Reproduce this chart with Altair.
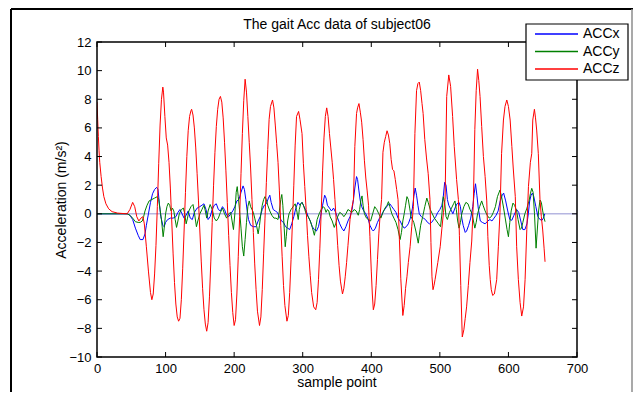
import altair as alt
import pandas as pd

# ---------------- data ----------------
series_names = ["ACCx", "ACCy", "ACCz"]
series_colors = ["#0000ff", "#008000", "#ff0000"]

x_ticks = [0, 100, 200, 300, 400, 500, 600, 700]
y_ticks = [-10, -8, -6, -4, -2, 0, 2, 4, 6, 8, 10, 12]

acc_x = [
    [0, 0], [44, 0], [48, -0.1], [52, -0.4], [56, -1.0], [60, -1.5], [63, -1.8], [67, -1.8], [70, -1.4],
    [72, -0.8], [75, 0.0], [78, 0.8], [81, 1.4], [84, 1.7], [87, 1.85], [89, 1.7], [91, 0.7], [93, -0.2],
    [96, -0.8], [98, -0.9], [100, -0.6], [103, -0.4], [107, -0.3], [111, -0.3], [115, -0.2], [118, 0.1],
    [121, 0.3], [124, 0.0], [127, -0.3], [130, -0.1], [133, 0.2], [136, -0.3], [139, -0.4], [142, 0.1],
    [146, 0.4], [150, 0.5], [153, 0.6], [156, 0.7], [159, 0.3], [162, -0.4], [165, -0.2], [168, 0.3],
    [171, 0.6], [174, 0.7], [177, 0.3], [180, 0.2], [183, 0.5], [186, 0.3], [189, -0.1], [192, -0.2],
    [195, 0.0], [198, 0.2], [201, 0.5], [204, 0.9], [207, 1.0], [210, 1.5], [213, 1.95], [215, 1.7],
    [217, 1.0], [219, 0.2], [221, -0.4], [224, -0.8], [228, -0.9], [232, -0.9], [235, -0.5], [238, -0.2],
    [241, 0.3], [244, 0.6], [247, 0.7], [250, 1.1], [252, 1.3], [254, 0.8], [257, 0.3], [260, 0.2],
    [263, 0.1], [266, -0.2], [269, -0.5], [272, -0.6], [275, -0.9], [278, -1.0], [281, -1.1], [284, -0.7],
    [287, -0.2], [290, 0.4], [293, 0.8], [296, 0.6], [299, 0.8], [302, 0.5], [305, 0.2], [308, -0.2],
    [311, -0.5], [314, -0.9], [317, -1.1], [320, -1.2], [323, -0.9], [326, -0.2], [329, 0.6], [332, 1.3],
    [334, 1.1], [336, 0.6], [339, 0.4], [342, 0.2], [345, 0.4], [348, 0.1], [351, -0.3], [354, -0.7],
    [357, -1.0], [360, -1.2], [363, -0.9], [366, -0.5], [369, -0.2], [372, 0.3], [374, 1.0], [376, 1.8],
    [378.5, 2.6], [380, 2.4], [382, 1.6], [384, 0.9], [386, 0.5], [389, 0.2], [392, 0.0], [395, -0.3],
    [398, -0.8], [401, -1.1], [403, -1.2], [406, -1.0], [409, -0.6], [412, -0.3], [415, -0.1], [418, 0.2],
    [421, 0.4], [424, 0.6], [427, 0.7], [430, 0.5], [433, 0.3], [436, 0.1], [439, -0.3], [442, -0.5],
    [445, -0.8], [448, -1.0], [451, -0.9], [454, -0.7], [457, -0.3], [460, 0.4], [462, 1.2], [464, 1.8],
    [466, 1.3], [468, 0.6], [470, 0.0], [473, -0.2], [476, -0.3], [479, -0.4], [482, -0.6], [485, -0.7],
    [488, -0.6], [491, -0.4], [494, -0.2], [497, 0.1], [500, 0.3], [503, 0.6], [505, 1.2], [507, 2.2],
    [509, 2.0], [511, 1.0], [513, 0.6], [516, 0.3], [519, 0.0], [522, 0.4], [525, 0.7], [528, 0.8],
    [530, 0.5], [532, -0.3], [534, -0.8], [537, -1.3], [539, -1.2], [542, -0.8], [545, -0.3], [548, 0.5],
    [550, 1.4], [552, 2.1], [554, 1.3], [556, 0.4], [559, -0.5], [562, -0.6], [566, -0.7], [570, -0.5],
    [573, -0.4], [576, -0.5], [579, -0.3], [582, -0.1], [585, 0.2], [588, 0.9], [591, 1.3], [593, 1.45],
    [596, 0.9], [599, 0.2], [602, -0.4], [605, -0.45], [608, -0.1], [612, 0.3], [615, 0.1], [618, -0.5],
    [621, -1.1], [624, -1.1], [627, -0.7], [629, 0.0], [631, 0.9], [633, 1.3], [635, 1.45], [637, 1.2],
    [640, 0.5], [643, -0.2], [646, -0.4], [649, -0.45], [651, -0.3], [653, 0.0],
]

acc_y = [
    [0, 0], [44, 0], [48, -0.1], [52, -0.3], [56, -0.55], [60, -0.6], [63, -0.6], [66, -0.5], [68, -0.2],
    [70, 0.2], [73, 0.6], [76, 0.9], [80, 1.0], [84, 1.1], [88, 1.2], [90, 1.0], [92, 0.3], [94, -0.4],
    [96.5, -1.6], [98, -1.0], [100, 0.0], [102, 0.5], [104, 0.75], [106, 0.6], [108, 0.2], [110, 0.4],
    [112, 0.2], [114, -0.4], [116, -0.95], [118, -0.5], [120, 0.0], [123, 0.3], [126, 0.4], [128, 0.0],
    [130, -0.7], [132, -0.3], [134, 0.2], [137, 0.5], [140, 0.65], [142, 0.1], [145, -0.9], [147, -0.5],
    [150, 0.0], [153, 0.3], [156, 0.6], [158, 0.2], [160, -0.3], [162, 0.2], [165, 0.65], [168, 0.3],
    [171, -0.3], [174, -0.5], [177, -0.3], [180, 0.1], [183, 0.4], [186, 0.0], [189, -0.3], [192, 0.0],
    [195, 0.1], [197, -0.5], [199, -1.1], [201, 0.0], [203, 1.5], [204.5, 1.9], [206, 1.2], [208, 0.2],
    [210, -1.0], [212, -2.3], [214, -2.95], [216, -1.8], [218, -0.6], [220, 0.5], [222, 0.9], [224, 0.5],
    [226, 0.3], [228, 0.1], [230, -0.3], [233, -0.9], [235, -1.4], [237, -0.8], [239, 0.0], [241, 0.6],
    [243, 1.0], [245, 1.2], [247, 1.0], [249, 0.6], [252, 0.2], [255, -0.1], [258, -0.3], [261, -0.3],
    [264, -0.4], [266, 0.2], [268, 1.0], [269.5, 1.35], [271, 0.6], [273, -1.0], [274.5, -2.3], [276, -1.6],
    [278, -0.5], [280, 0.0], [283, 0.3], [286, 0.5], [289, 0.7], [291, 0.3], [293.5, -0.4], [295, 0.3],
    [297, 0.7], [299, 0.8], [301, 0.6], [303, 0.3], [305, 0.0], [308, -0.2], [311, -0.5], [314, -0.95],
    [317, -1.5], [319, -1.0], [321, -0.4], [324, 0.0], [327, 0.3], [330, 0.5], [332, 0.4], [334, 0.1],
    [336, 0.3], [338, 0.2], [340, -0.2], [343, -0.5], [346, -0.95], [348, -0.7], [351, -0.2], [354, 0.1],
    [357, 0.0], [360, -0.2], [363, 0.0], [366, 0.3], [369, 0.2], [372, 0.1], [375, 0.3], [378, 0.2],
    [381, -0.1], [383, 0.3], [385, 1.0], [386.5, 1.25], [388, 0.6], [390, 0.0], [393, -0.3], [396, -0.4],
    [399, -0.5], [402, 0.0], [405, 0.5], [408, 0.3], [411, 0.0], [414, -0.3], [417, 0.1], [420, 0.4],
    [423, 0.6], [425, 0.85], [427, 0.5], [430, 0.0], [433, -0.3], [436, -0.6], [439, -1.1], [442, -1.8],
    [444, -1.3], [446, -0.5], [448, 0.0], [450, 0.6], [452, 1.2], [454, 1.0], [456, 0.4], [458, -0.2],
    [460, -0.4], [462, -0.6], [465, -1.2], [468.5, -2.05], [470, -1.5], [472, -0.8], [475, -0.2], [478, 0.5],
    [481, 1.1], [483, 0.8], [486, 0.3], [489, 0.0], [492, -0.3], [495, -0.5], [498, -0.7], [501, -0.9],
    [503, 0.0], [505, 1.2], [507, 0.8], [509, -0.2], [511, -0.4], [514, 0.1], [517, 0.4], [520, 0.7],
    [522, 0.9], [524, 0.3], [526, -0.5], [528, -1.0], [530, -0.6], [532, 0.0], [535, 0.5], [538, 0.8],
    [541, 0.7], [544, 0.3], [547, 0.0], [549, -0.5], [551, -1.0], [553, -0.6], [555, 0.0], [558, 0.5],
    [561, 0.9], [563, 0.6], [566, 0.2], [569, -0.1], [572, -0.3], [575, -0.2], [578, 0.1], [581, 0.5],
    [584, 1.2], [587.7, 1.66], [590, 1.2], [593, 0.4], [596, -0.5], [598, -1.1], [600, -1.6], [602, -0.6],
    [604, 0.2], [606.6, 0.75], [609, 0.6], [612, 0.2], [614, -0.4], [617, -1.1], [619, -1.0], [621, -0.6],
    [624, 0.0], [627, 0.4], [630, 0.9], [632, 1.4], [634, 1.78], [636, 1.5], [638, 0.0], [640.3, -2.4],
    [642, -1.2], [644, 0.2], [646, 0.97], [648, 0.8], [650, 0.2], [652, -0.3], [653.4, -0.55],
]

acc_z = [
    [0, 7.8], [1, 6.6], [2, 5.4], [3, 4.4], [4, 3.6], [6, 2.6], [8, 1.8], [10, 1.2], [13, 0.7], [17, 0.35],
    [22, 0.15], [30, 0.05], [44, 0.0], [48, 0.3], [52, 0.8], [55, 0.5], [58, -0.2], [61, -0.5], [64, -0.3],
    [67, -0.2], [69, -0.7], [72, -2.3], [75, -4.0], [78, -5.5], [80, -6.0], [82, -5.6], [84, -4.2],
    [86, -2.2], [88, 0.5], [90, 3.5], [92, 6.2], [94, 8.0], [96, 8.85], [97, 8.5], [99, 6.8], [101, 5.3],
    [103, 4.8], [105, 3.6], [107, 1.8], [109, -0.5], [111, -2.8], [113, -4.8], [115, -6.3], [117, -7.2],
    [119, -7.5], [121, -7.3], [123, -6.0], [125, -3.8], [127, -1.2], [129, 1.5], [131, 4.0], [133, 5.8],
    [135, 6.8], [137, 7.2], [138, 7.3], [140, 6.9], [142, 6.0], [144, 4.6], [146, 2.8], [148, 0.9],
    [150, -1.2], [152, -3.3], [154, -5.2], [156, -6.7], [158, -7.7], [160, -8.2], [162, -7.6], [164, -5.8],
    [166, -3.3], [168, -0.6], [170, 2.0], [172, 4.3], [174, 6.1], [176, 7.3], [178, 8.0], [180, 8.2],
    [182, 7.8], [184, 6.7], [186, 5.0], [188, 3.0], [190, 0.8], [192, -1.5], [194, -3.6], [196, -5.5],
    [198, -6.9], [200, -7.8], [202, -7.4], [204, -5.6], [206, -3.0], [208, -0.2], [210, 2.8], [212, 5.6],
    [214, 7.9], [216, 9.4], [218, 8.5], [220, 6.8], [222, 5.0], [224, 3.2], [226, 1.0], [228, -1.3],
    [230, -3.5], [232, -5.3], [234, -6.8], [237, -7.8], [239, -7.2], [241, -5.3], [243, -2.8], [245, -0.3],
    [247, 2.2], [249, 4.5], [251, 6.6], [253, 7.5], [256, 7.95], [258, 7.4], [260, 6.2], [262, 4.9],
    [264, 3.6], [266, 1.6], [268, -0.8], [270, -3.0], [272, -5.0], [274, -6.4], [277, -7.5], [279, -7.1],
    [281, -5.5], [283, -3.2], [285, -0.6], [287, 2.0], [289, 4.8], [291, 6.8], [294, 7.15], [296, 6.6],
    [299, 5.6], [301, 3.5], [303, 1.9], [305, 0.3], [307, -1.5], [309, -3.0], [311, -4.3], [313, -5.5],
    [316, -6.5], [319, -6.7], [321, -6.2], [323, -4.6], [325, -2.4], [327, 0.2], [329, 3.0], [331, 5.3],
    [333, 6.8], [335, 7.4], [337, 6.8], [339, 5.6], [341, 4.6], [343, 3.6], [345, 2.4], [347, 1.0],
    [349, -0.6], [351, -2.2], [353, -3.6], [355, -4.7], [358, -5.6], [360, -5.2], [362, -4.4], [364, -3.4],
    [366, -2.2], [369, -0.4], [372, 0.5], [374, 1.0], [376, 4.7], [378.5, 7.0], [380, 7.4], [382, 7.7],
    [384, 7.1], [386, 6.4], [388, 5.2], [390, 3.7], [392, 2.5], [394, 1.6], [396, 0.6], [398, -1.6],
    [400, -4.0], [401.5, -5.6], [403, -6.7], [405, -6.3], [407, -5.0], [409, -3.2], [411, -1.4], [413, 0.0],
    [415, 1.0], [417, 4.3], [419, 5.0], [421, 5.4], [423, 5.8], [425, 5.5], [427, 4.9], [429, 3.8],
    [431, 3.1], [433, 3.0], [435, 2.4], [437, 1.7], [439, 1.0], [441, -1.8], [443, -4.5], [446, -7.1],
    [448, -6.4], [450, -5.2], [452, -4.4], [454, -3.4], [456.6, -2.3], [459, -0.9], [461.4, 0.5],
    [463.6, 5.6], [466, 8.6], [468, 9.1], [470, 9.2], [472, 8.6], [474, 7.7], [475.6, 7.0], [478, 5.2],
    [480.5, 3.9], [483, 2.8], [485.6, 1.0], [487, -2.0], [488.5, -4.4], [490, -5.3], [491.5, -5.0],
    [493, -4.6], [497, -3.4], [500.5, -2.3], [503, -1.0], [505.3, 0.1], [507.6, 1.0], [510, 8.2], [513, 9.7],
    [515.7, 8.9], [518.6, 6.8], [521, 4.7], [524.4, 2.4], [527, 1.0], [528.5, -1.5], [530.5, -5.0],
    [532.7, -8.6], [535, -8.1], [537, -7.3], [539, -6.5], [541.5, -5.0], [543.9, -3.4], [546.5, -1.9],
    [548.9, 0.9], [551, 5.9], [553, 8.6], [555, 10.1], [556.8, 9.3], [558.6, 8.2], [561, 6.1], [563.5, 4.0],
    [566, 2.6], [568.4, 0.9], [570, -1.6], [572, -3.6], [573.5, -4.6], [575, -5.3], [577, -5.7],
    [579.5, -5.6], [582.9, -4.6], [585.3, -2.3], [587.7, 0.1], [590, 4.2], [592.7, 6.55], [595, 7.5],
    [597.6, 7.95], [600, 7.5], [602.5, 6.55], [605, 4.7], [607, 3.2], [610, 1.2], [612, -2.3], [614.5, -4.6],
    [617, -6.2], [619.4, -7.14], [622, -6.5], [624.3, -4.6], [626.8, -1.1], [629.2, 1.9], [632, 3.6],
    [634, 4.2], [635.5, 6.55], [637.9, 7.3], [639.5, 6.7], [641.2, 5.85], [643.6, 4.2], [646, 1.0],
    [648, -0.2], [650, -1.13], [652, -2.4], [653.4, -3.35],
]

chart_title = "The gait Acc data of subject06"
x_title = "sample point"
y_title = "Acceleration (m/s²)"

# ---------------- build tables ----------------
rows = []
for name, pts in zip(series_names, [acc_x, acc_y, acc_z]):
    for i, (xv, yv) in enumerate(pts):
        rows.append({"x": xv, "y": yv, "series": name, "ord": i})
df = pd.DataFrame(rows)

FONT = "Liberation Sans"
W, H = 480, 315
xscale = alt.Scale(domain=[0, 700], nice=False, zero=False)
yscale = alt.Scale(domain=[-10, 12], nice=False, zero=False)
xaxis = alt.Axis(values=x_ticks, title=None, grid=False, ticks=False, tickSize=0, domain=False,
                 labelFontSize=13, labelFont=FONT, labelColor="black", labelPadding=5,
                 labelFlush=False)
yaxis = alt.Axis(values=y_ticks, title=None, grid=False, ticks=False, tickSize=0, domain=False,
                 labelFontSize=13, labelFont=FONT, labelColor="black", labelPadding=6,
                 labelFlush=False)
color = alt.Color("series:N", scale=alt.Scale(domain=series_names, range=series_colors), legend=None)

# zero reference line (light lavender)
zero_line = alt.Chart(pd.DataFrame({"z": [0]})).mark_rule(
    color="#a9a9dc", strokeWidth=1.5, opacity=0.85
).encode(y=alt.Y("z:Q", scale=yscale, axis=yaxis))

lines = alt.Chart(df).mark_line(strokeWidth=1, clip=True).encode(
    x=alt.X("x:Q", scale=xscale, axis=xaxis),
    y=alt.Y("y:Q", scale=yscale, axis=yaxis),
    color=color,
    detail="series:N",
    order="ord:Q",
)

# inward ticks (MATLAB style) on all four sides
xt = pd.DataFrame({"t": x_ticks})
yt = pd.DataFrame({"t": y_ticks})
tick_style = dict(color="black", strokeWidth=1)
xt_bottom = alt.Chart(xt).mark_rule(**tick_style).encode(
    x=alt.X("t:Q", scale=xscale, axis=xaxis), y=alt.value(H), y2=alt.value(H - 5))
xt_top = alt.Chart(xt).mark_rule(**tick_style).encode(
    x=alt.X("t:Q", scale=xscale, axis=xaxis), y=alt.value(0), y2=alt.value(5))
yt_left = alt.Chart(yt).mark_rule(**tick_style).encode(
    y=alt.Y("t:Q", scale=yscale, axis=yaxis), x=alt.value(0), x2=alt.value(5))
yt_right = alt.Chart(yt).mark_rule(**tick_style).encode(
    y=alt.Y("t:Q", scale=yscale, axis=yaxis), x=alt.value(W), x2=alt.value(W - 5))

# box around the axes
box = alt.Chart(pd.DataFrame({"a": [0]})).mark_rect(
    fill=None, stroke="black", strokeWidth=1.5, fillOpacity=0
).encode(x=alt.value(0), x2=alt.value(W), y=alt.value(0), y2=alt.value(H))

# figure frame
frame_df = pd.DataFrame({"a": [0]})
frame_top = alt.Chart(frame_df).mark_rule(color="black", strokeWidth=2).encode(
    x=alt.value(-86), x2=alt.value(536), y=alt.value(-33))
frame_left = alt.Chart(frame_df).mark_rule(color="black", strokeWidth=2).encode(
    x=alt.value(-86), y=alt.value(-33), y2=alt.value(H + 40))
frame_right = alt.Chart(frame_df).mark_rule(color="#8c8c8c", strokeWidth=1.5).encode(
    x=alt.value(535), y=alt.value(-33), y2=alt.value(H + 40))

# texts
title_txt = alt.Chart(pd.DataFrame({"t": [chart_title]})).mark_text(
    font=FONT, fontSize=14, color="black", align="center", baseline="middle"
).encode(x=alt.value(W / 2), y=alt.value(-17), text="t:N")
xtitle_txt = alt.Chart(pd.DataFrame({"t": [x_title]})).mark_text(
    font=FONT, fontSize=14, color="black", align="center", baseline="middle"
).encode(x=alt.value(W / 2), y=alt.value(H + 26), text="t:N")
ytitle_txt = alt.Chart(pd.DataFrame({"t": [y_title]})).mark_text(
    font=FONT, fontSize=14, color="black", align="center", baseline="middle", angle=270
).encode(x=alt.value(-35), y=alt.value(158), text="t:N")

# legend (upper right, overlapping the axes box as in the reference)
leg_box = alt.Chart(pd.DataFrame({"a": [0]})).mark_rect(
    fill="white", stroke="black", strokeWidth=1.2
).encode(x=alt.value(429), x2=alt.value(531), y=alt.value(-18), y2=alt.value(38))
leg_layers = [leg_box]
for i, (name, col) in enumerate(zip(series_names, series_colors)):
    yy = -8 + 17.5 * i
    leg_layers.append(
        alt.Chart(pd.DataFrame({"a": [0]})).mark_rule(color=col, strokeWidth=1.3).encode(
            x=alt.value(438), x2=alt.value(481), y=alt.value(yy)))
    leg_layers.append(
        alt.Chart(pd.DataFrame({"t": [name]})).mark_text(
            font=FONT, fontSize=14, color="black", align="left", baseline="middle"
        ).encode(x=alt.value(486), y=alt.value(yy), text="t:N"))

chart = alt.layer(
    frame_top, frame_left, frame_right,
    zero_line, lines, box,
    xt_bottom, xt_top, yt_left, yt_right,
    title_txt, xtitle_txt, ytitle_txt,
    *leg_layers,
).properties(
    width=W, height=H,
    padding={"left": 89, "top": 34, "right": 56, "bottom": 35},
    autosize=alt.AutoSizeParams(type="none"),
    background="white",
).configure_view(stroke=None)

chart.save("out.html", embed_options={"renderer": "svg", "actions": False})
